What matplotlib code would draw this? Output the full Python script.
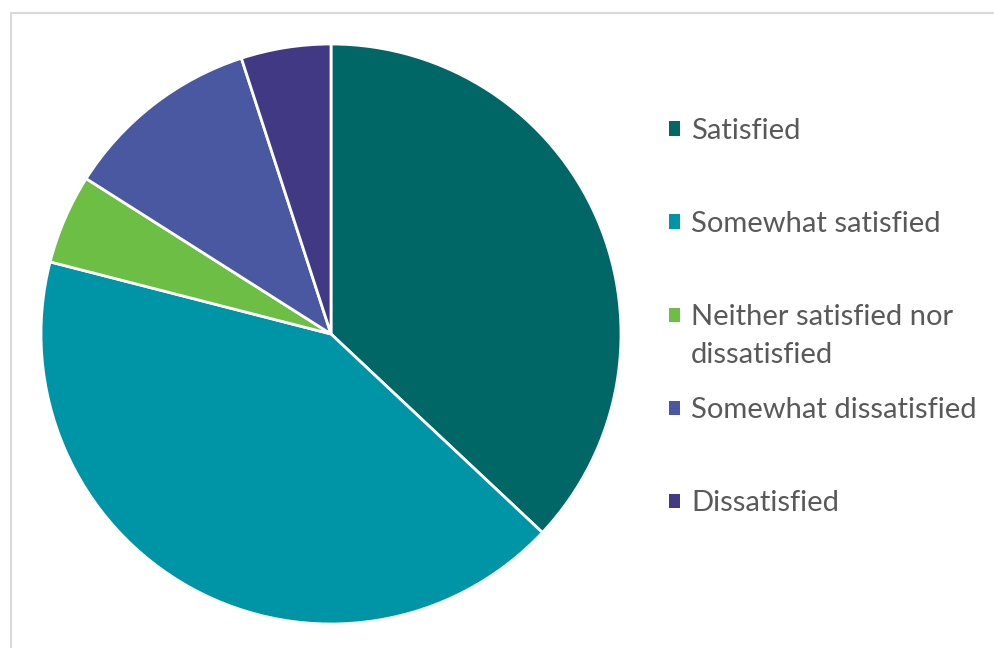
import matplotlib.pyplot as plt
from matplotlib.patches import Rectangle

# survey answers, percent
labels = ['Satisfied', 'Somewhat satisfied', 'Neither satisfied nor',
          'Somewhat dissatisfied', 'Dissatisfied']
label_wrap = {2: 'dissatisfied'}   # second line of the long label
values = [37, 42, 5, 11, 5]
colors = ['#006666', '#0094A7', '#6DBE45', '#4A58A2', '#413983']

plt.rcParams['font.family'] = ['Lato', 'DejaVu Sans']

fig = plt.figure(figsize=(9.94, 6.48), dpi=100)

# light grey chart-area frame (runs off right and bottom edges)
fig.patches.append(Rectangle((11 / 994, -0.1), 1.2, (648 - 13) / 648 + 0.1,
                             transform=fig.transFigure, fill=False,
                             edgecolor='#D9D9D9', linewidth=1.5))

ax = fig.add_axes([41 / 994, 24 / 648, 580 / 994, 580 / 648])
wedges, _ = ax.pie(values, colors=colors, startangle=90, counterclock=False,
                   radius=1, wedgeprops=dict(edgecolor='white', linewidth=2))
ax.set_xlim(-1, 1)
ax.set_ylim(-1, 1)
ax.set_aspect('equal')
ax.axis('off')

fs = 21
leg = fig.legend(wedges, labels, loc='upper left', bbox_to_anchor=(669 / 994, 1 - 118 / 648),
                 frameon=False, fontsize=fs, labelcolor='#595959',
                 handlelength=0.38, handleheight=0.38, handletextpad=0.38,
                 labelspacing=2.3, borderpad=0, borderaxespad=0)
for h in leg.legend_handles:
    h.set_edgecolor('none')
    h.set_linewidth(0)

# put the wrapped part of a label right under its first line
fig.canvas.draw()
inv = fig.transFigure.inverted()
for i, extra in label_wrap.items():
    bb = leg.get_texts()[i].get_window_extent()
    x0, y0 = inv.transform((bb.x0, bb.y0))
    fig.text(x0, y0 - 12 / 648, extra, fontsize=fs, color='#595959', va='top', ha='left')

fig.savefig('out.png', dpi=100)
